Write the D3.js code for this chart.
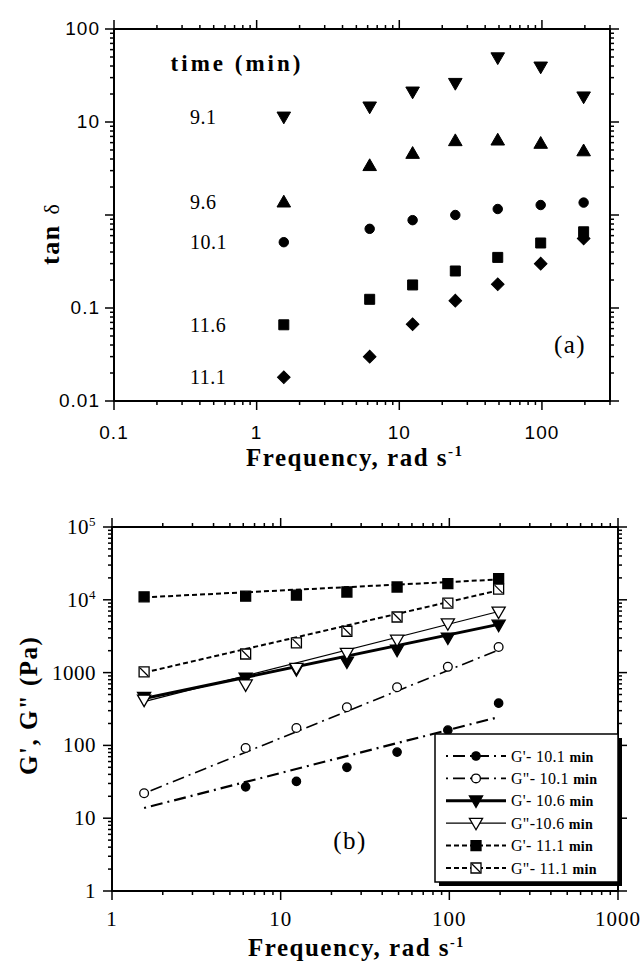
<!DOCTYPE html>
<html>
<head>
<meta charset="utf-8">
<script src="https://cdn.jsdelivr.net/npm/d3@7"></script>
<style>
  body { margin: 0; background: #fff; }
  svg { display: block; }
</style>
</head>
<body>
<svg id="fig" width="642" height="963"></svg>
<script>
// ---------- Panel (a): loss tangent vs frequency ----------
const freqA = [1.55, 6.2, 12.4, 24.7, 49, 98, 196];
const tanLabels = ["9.1", "9.6", "10.1", "11.6", "11.1"];
const tan91  = [11.3, 14.5, 21, 26, 49, 39, 18.6];
const tan96  = [1.38, 3.4, 4.6, 6.3, 6.4, 5.9, 4.9];
const tan101 = [0.51, 0.71, 0.88, 1.0, 1.16, 1.28, 1.36];
const tan116 = [0.066, 0.124, 0.177, 0.25, 0.35, 0.50, 0.66];
const tan111 = [0.018, 0.030, 0.067, 0.12, 0.18, 0.30, 0.56];
const tickLabelsAX = ["0.1", "1", "10", "100"];
const tickLabelsAY = ["0.01", "0.1", "", "10", "100"];

// ---------- Panel (b): moduli vs frequency ----------
const freqB = [1.55, 6.2, 12.4, 24.7, 49, 98, 196];
const gp101  = [null, 27, 32, 50, 81, 162, 380];
const gpp101 = [22, 92, 173, 335, 630, 1200, 2250];
const gp106  = [460, 840, 1100, 1400, 2040, 3000, 4500];
const gpp106 = [420, 680, 1150, 1850, 2800, 4700, 6800];
const gp111  = [11000, 11200, 11600, 12800, 15000, 16700, 19500];
const gpp111 = [1020, 1800, 2560, 3700, 5800, 9000, 14000];
// power-law fit lines: value at the first and last frequency
const fit101p  = [13.8, 245];
const fit101pp = [22, 2050];
const fit106p  = [440, 4600];
const fit106pp = [400, 6900];
const fit111p  = [10800, 19000];
const fit111pp = [1000, 13500];
const legendNames = ["G'- 10.1 ", "G\"- 10.1 ", "G'- 10.6 ", "G\"-10.6 ", "G'- 11.1 ", "G\"- 11.1 "];
const tickLabelsBX = ["1", "10", "100", "1000"];
const tickLabelsBY = [["1"], ["10"], ["100"], ["1000"], ["10", "4"], ["10", "5"]];

const svg = d3.select("#fig");
const SERIF = "'Liberation Serif', 'Times New Roman', serif";
const SANS = "'Liberation Sans', Arial, sans-serif";

const xA = d3.scaleLog().domain([0.1, 300]).range([114, 610]);
const yA = d3.scaleLog().domain([0.01, 100]).range([401, 29]);
const xB = d3.scaleLog().domain([1, 1000]).range([112, 618]);
const yB = d3.scaleLog().domain([1, 1e5]).range([891, 527]);

const isMajor = v => Math.abs(Math.log10(v) - Math.round(Math.log10(v))) < 1e-9;

function drawFrame(g, x, y) {
  const [L, R] = x.range(), [B, T] = y.range();
  const t = g.append("g").attr("stroke", "#000").attr("stroke-width", 1.5);
  x.ticks().forEach(v => {
    const len = isMajor(v) ? 9 : 4, px = x(v);
    t.append("line").attr("x1", px).attr("x2", px).attr("y1", B).attr("y2", B + len);
    t.append("line").attr("x1", px).attr("x2", px).attr("y1", T).attr("y2", T - len);
  });
  y.ticks().forEach(v => {
    const len = isMajor(v) ? 9 : 4, py = y(v);
    t.append("line").attr("x1", L).attr("x2", L - len).attr("y1", py).attr("y2", py);
    t.append("line").attr("x1", R).attr("x2", R + len).attr("y1", py).attr("y2", py);
  });
  g.append("rect").attr("x", L).attr("y", T).attr("width", R - L).attr("height", B - T)
    .attr("fill", "none").attr("stroke", "#000").attr("stroke-width", 2);
}

function symbolPath(kind, size) {
  switch (kind) {
    case "down": return d3.symbol(d3.symbolTriangle, size)();
    case "up": return d3.symbol(d3.symbolTriangle, size)();
    case "circle": return d3.symbol(d3.symbolCircle, size)();
    case "square": return d3.symbol(d3.symbolSquare, size)();
    case "diamond": return d3.symbol(d3.symbolSquare, size)();
  }
}
function drawMarker(g, kind, cx, cy, opt) {
  const size = opt.size;
  let rot = 0;
  if (kind === "down") rot = 180;
  if (kind === "diamond") rot = 45;
  const dy = (kind === "down") ? -Math.sqrt(size) * 0.12 : (kind === "up" ? Math.sqrt(size) * 0.12 : 0);
  const p = g.append("path").attr("d", symbolPath(kind, size))
    .attr("transform", `translate(${cx},${cy + dy}) rotate(${rot})`)
    .attr("fill", opt.fill).attr("stroke", "#000").attr("stroke-width", opt.sw || 1);
  if (opt.slash) {
    const h = Math.sqrt(size) / 2 - 1;
    g.append("line").attr("x1", cx - h).attr("y1", cy - h).attr("x2", cx + h).attr("y2", cy + h)
      .attr("stroke", "#000").attr("stroke-width", 1.2);
  }
  return p;
}

// ================= Panel (a) =================
const ga = svg.append("g");
drawFrame(ga, xA, yA);

// tick labels
xA.ticks().filter(isMajor).forEach((v, i) => {
  ga.append("text").attr("x", xA(v)).attr("y", 439).attr("text-anchor", "middle")
    .attr("font-family", SANS).attr("font-size", 19).attr("letter-spacing", 1).text(tickLabelsAX[i]);
});
yA.ticks().filter(isMajor).forEach((v, i) => {
  ga.append("text").attr("x", 100).attr("y", yA(v) + 6).attr("text-anchor", "end")
    .attr("font-family", SANS).attr("font-size", 19).attr("letter-spacing", 1).text(tickLabelsAY[i]);
});

// axis titles
const xtA = ga.append("text").attr("x", 246).attr("y", 466)
  .attr("font-family", SERIF).attr("font-size", 25).attr("font-weight", "bold").attr("letter-spacing", 1.5);
xtA.append("tspan").text("Frequency, rad s");
xtA.append("tspan").attr("dy", -10).attr("font-size", 15).text("-1");

const ytA = ga.append("text").attr("transform", "translate(59,265) rotate(-90)")
  .attr("font-family", SERIF).attr("font-size", 26).attr("font-weight", "bold").attr("letter-spacing", 1.5);
ytA.append("tspan").text("tan");
ytA.append("tspan").attr("dx", 10).attr("font-weight", "normal").attr("font-size", 22).text("δ");

ga.append("text").attr("x", 237).attr("y", 71).attr("text-anchor", "middle")
  .attr("font-family", SERIF).attr("font-size", 23).attr("font-weight", "bold").attr("letter-spacing", 3)
  .text("time (min)");
ga.append("text").attr("x", 570).attr("y", 353).attr("text-anchor", "middle")
  .attr("font-family", SERIF).attr("font-size", 25).attr("letter-spacing", 1.5).text("(a)");

const seriesA = [
  { vals: tan91, kind: "down", size: 80 },
  { vals: tan96, kind: "up", size: 80 },
  { vals: tan101, kind: "circle", size: 70 },
  { vals: tan116, kind: "square", size: 100 },
  { vals: tan111, kind: "diamond", size: 80 }
];
seriesA.forEach((s, si) => {
  ga.append("text").attr("x", 190).attr("y", yA(s.vals[0]) + 7)
    .attr("font-family", SERIF).attr("font-size", 20).attr("letter-spacing", 0.5).text(tanLabels[si]);
  s.vals.forEach((v, i) => drawMarker(ga, s.kind, xA(freqA[i]), yA(v), { size: s.size, fill: "#000" }));
});

// ================= Panel (b) =================
const gb = svg.append("g");
drawFrame(gb, xB, yB);

xB.ticks().filter(isMajor).forEach((v, i) => {
  gb.append("text").attr("x", xB(v)).attr("y", 926).attr("text-anchor", "middle")
    .attr("font-family", SERIF).attr("font-size", 21).attr("letter-spacing", 1).text(tickLabelsBX[i]);
});
yB.ticks().filter(isMajor).forEach((v, i) => {
  const lab = tickLabelsBY[i];
  const t = gb.append("text").attr("x", 96).attr("y", yB(v) + 7).attr("text-anchor", "end")
    .attr("font-family", SERIF).attr("font-size", 21).attr("letter-spacing", 0.5);
  t.append("tspan").text(lab[0]);
  if (lab[1]) t.append("tspan").attr("dy", -8).attr("font-size", 13).text(lab[1]);
});

const xtB = gb.append("text").attr("x", 248).attr("y", 956)
  .attr("font-family", SERIF).attr("font-size", 25).attr("font-weight", "bold").attr("letter-spacing", 1.5);
xtB.append("tspan").text("Frequency, rad s");
xtB.append("tspan").attr("dy", -9).attr("font-size", 14).text("-1");

gb.append("text").attr("transform", "translate(37,775) rotate(-90)")
  .attr("font-family", SERIF).attr("font-size", 25).attr("font-weight", "bold").attr("letter-spacing", 1.5)
  .text("G', G\" (Pa)");

gb.append("text").attr("x", 350).attr("y", 849).attr("text-anchor", "middle")
  .attr("font-family", SERIF).attr("font-size", 25).attr("letter-spacing", 1.5).text("(b)");

const seriesB = [
  { vals: gp101, fit: fit101p, kind: "circle", fill: "#000", size: 55, dash: "2,5,12,5", lw: 2.2 },
  { vals: gpp101, fit: fit101pp, kind: "circle", fill: "#fff", size: 60, dash: "2,5,12,5", lw: 1.6 },
  { vals: gp106, fit: fit106p, kind: "down", fill: "#000", size: 75, dash: null, lw: 3 },
  { vals: gpp106, fit: fit106pp, kind: "down", fill: "#fff", size: 75, dash: null, lw: 1.2 },
  { vals: gp111, fit: fit111p, kind: "square", fill: "#000", size: 100, dash: "5,3", lw: 2 },
  { vals: gpp111, fit: fit111pp, kind: "square", fill: "#fff", size: 100, dash: "5,3", lw: 2, slash: true }
];
const line = d3.line().x(d => xB(d[0])).y(d => yB(d[1]));
seriesB.forEach(s => {
  const ends = [[freqB[0], s.fit[0]], [freqB[freqB.length - 1], s.fit[1]]];
  gb.append("path").attr("d", line(ends)).attr("fill", "none").attr("stroke", "#000")
    .attr("stroke-width", s.lw).attr("stroke-dasharray", s.dash);
});
seriesB.forEach(s => {
  s.vals.forEach((v, i) => {
    if (v == null) return;
    drawMarker(gb, s.kind, xB(freqB[i]), yB(v), { size: s.size, fill: s.fill, sw: 1.3, slash: s.slash });
  });
});

// legend
const lg = gb.append("g");
lg.append("rect").attr("x", 439).attr("y", 738).attr("width", 183).attr("height", 148).attr("fill", "#000");
lg.append("rect").attr("x", 435).attr("y", 734).attr("width", 183).attr("height", 148)
  .attr("fill", "#fff").attr("stroke", "#000").attr("stroke-width", 1.5);
seriesB.forEach((s, i) => {
  const y = 756 + i * 22.4;
  lg.append("line").attr("x1", 446).attr("x2", 506).attr("y1", y).attr("y2", y)
    .attr("stroke", "#000").attr("stroke-width", s.lw).attr("stroke-dasharray", s.dash);
  drawMarker(lg, s.kind, 476, y, { size: s.size, fill: s.fill, sw: 1.3, slash: s.slash });
  const t = lg.append("text").attr("x", 511).attr("y", y + 5.5)
    .attr("font-family", SERIF).attr("font-size", 16).attr("letter-spacing", 0.3);
  t.append("tspan").text(legendNames[i]);
  t.append("tspan").attr("font-size", 14).attr("font-weight", "bold").text("min");
});
</script>
</body>
</html>
